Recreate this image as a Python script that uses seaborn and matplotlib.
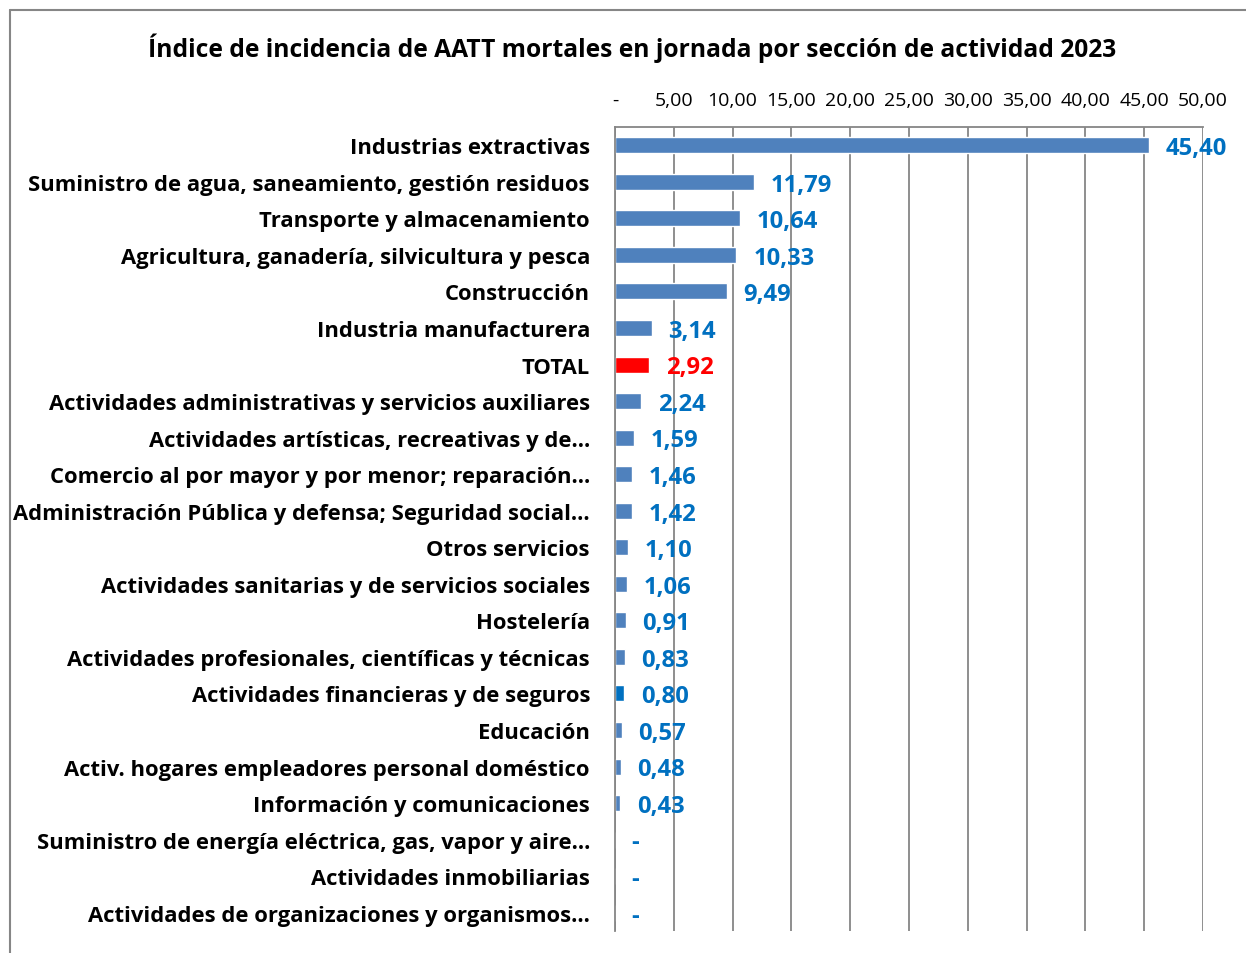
import numpy as np
import pandas as pd
import matplotlib
matplotlib.use('Agg')
import matplotlib.pyplot as plt
import seaborn as sns
from matplotlib.lines import Line2D

# datos
sectores = [
    'Industrias extractivas',
    'Suministro de agua, saneamiento, gestión residuos',
    'Transporte y almacenamiento',
    'Agricultura, ganadería, silvicultura y pesca',
    'Construcción',
    'Industria manufacturera',
    'TOTAL',
    'Actividades administrativas y servicios auxiliares',
    'Actividades artísticas, recreativas y de…',
    'Comercio al por mayor y por menor; reparación…',
    'Administración Pública y defensa; Seguridad social…',
    'Otros servicios',
    'Actividades sanitarias y de servicios sociales',
    'Hostelería',
    'Actividades profesionales, científicas y técnicas',
    'Actividades financieras y de seguros',
    'Educación',
    'Activ. hogares empleadores personal doméstico',
    'Información y comunicaciones',
    'Suministro de energía eléctrica, gas, vapor y aire…',
    'Actividades inmobiliarias',
    'Actividades de organizaciones y organismos…',
]
indices = [45.40, 11.79, 10.64, 10.33, 9.49, 3.14, 2.92, 2.24, 1.59, 1.46, 1.42,
           1.10, 1.06, 0.91, 0.83, 0.80, 0.57, 0.48, 0.43, 0.0, 0.0, 0.0]
ticks = [0, 5, 10, 15, 20, 25, 30, 35, 40, 45, 50]
titulo = 'Índice de incidencia de AATT mortales en jornada por sección de actividad 2023'

AZUL = '#4F81BD'
colores = {s: AZUL for s in sectores}
colores['TOTAL'] = '#FF0000'
colores['Actividades financieras y de seguros'] = '#0070C0'

sns.set_style('white')
plt.rcParams['font.family'] = ['Open Sans', 'DejaVu Sans']
plt.rcParams['text.color'] = 'black'
plt.rcParams['xtick.color'] = 'black'
plt.rcParams['ytick.color'] = 'black'

df = pd.DataFrame({'sector': sectores, 'indice': indices})

fig = plt.figure(figsize=(12.46, 9.54), dpi=100)
ax = fig.add_axes([615/1246, 1-932/954, (1203-615)/1246, (932-128)/954])
sns.barplot(data=df, x='indice', y='sector', hue='sector', palette=colores,
            orient='h', width=0.44, legend=False, ax=ax, saturation=1)

ax.set_xlim(0, 50)
ax.set_ylim(len(sectores) - 0.5, -0.5)
ax.set_xticks(ticks)
ax.set_xticklabels(['-' if t == 0 else f'{t:.2f}'.replace('.', ',') for t in ticks])
ax.xaxis.tick_top()
ax.tick_params(axis='x', length=0, pad=13, labelsize=14, labelcolor='black')
ax.tick_params(axis='y', length=0, pad=18, labelsize=15.8, labelcolor='black')
for lab in ax.get_yticklabels():
    lab.set_fontweight('bold')
ax.set_xlabel('')
ax.set_ylabel('')
ax.grid(axis='x', color='#868686', linewidth=1.3)
ax.set_axisbelow(True)
for side in ['top', 'left']:
    ax.spines[side].set_color('#868686')
    ax.spines[side].set_linewidth(1.3)
ax.spines['right'].set_visible(False)
ax.spines['bottom'].set_visible(False)

# etiquetas de valor
for i, (s, v) in enumerate(zip(sectores, indices)):
    txt = '-' if v == 0 else f'{v:.2f}'.replace('.', ',')
    col = '#FF0000' if s == 'TOTAL' else '#0070C0'
    ax.annotate(txt, (v, i), xytext=(12, -2), textcoords='offset points',
                ha='left', va='center', fontsize=17.2, fontweight='bold', color=col)

fig.text(632/1246, 1-48/954, titulo, ha='center', va='center',
         fontsize=17.7, fontweight='bold', color='black')

# borde del área del gráfico
fig.add_artist(Line2D([10/1246, 10/1246], [0, 1-11/954], color='#868686', linewidth=1.5))
fig.add_artist(Line2D([10/1246, 1], [1-11/954, 1-11/954], color='#868686', linewidth=1.5))

fig.savefig('out.png', dpi=100)
